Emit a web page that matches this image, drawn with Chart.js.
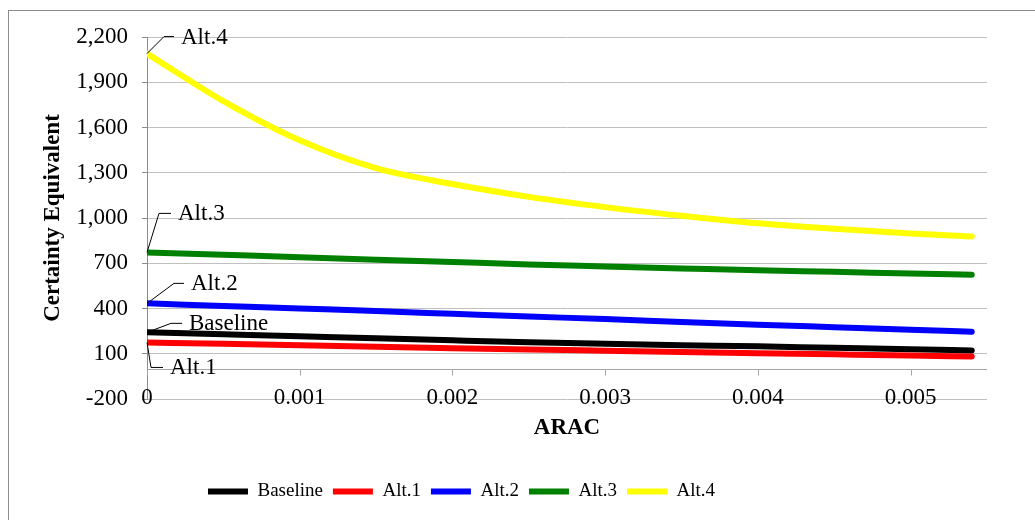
<!DOCTYPE html>
<html>
<head>
<meta charset="utf-8">
<script src="https://cdn.jsdelivr.net/npm/chart.js@4"></script>
<style>
  body { margin: 0; background: #fff; }
  #wrap { position: relative; width: 1035px; height: 520px; }
  #frame { position: absolute; left: 8px; top: 10px; width: 1040px; height: 520px;
           border-left: 1px solid #8c8c8c; border-top: 1px solid #8c8c8c; }
  canvas { position: absolute; left: 0; top: 0; }
</style>
</head>
<body>
<div id="wrap">
  <div id="frame"></div>
  <canvas id="grafico-ce" width="1035" height="520"></canvas>
</div>
<script>
// ARAC values sampled along the curves
const arac = [0, 0.0005, 0.001, 0.0015, 0.002, 0.0025, 0.003, 0.0035, 0.004, 0.0045, 0.005, 0.0054];

const baseline = [242, 229, 216, 203, 189, 176, 166, 157, 149, 139, 130, 122];
const alt1 = [175, 166, 156, 147, 137, 128, 120, 112, 104, 96, 88, 82];
const alt2 = [434, 417, 400, 383, 365, 347, 330, 311, 293, 276, 259, 246];
const alt3 = [772, 756, 740, 724, 708, 692, 679, 666, 653, 643, 632, 624];
const alt4 = [2090, 1775, 1515, 1330, 1225, 1140, 1072, 1015, 965, 928, 898, 878];

const nomes = ['Baseline', 'Alt.1', 'Alt.2', 'Alt.3', 'Alt.4'];
const cores = ['#000000', '#ff0000', '#0000ff', '#008000', '#ffff00'];
const series = [baseline, alt1, alt2, alt3, alt4];

const yTicks = [-200, 100, 400, 700, 1000, 1300, 1600, 1900, 2200];
const xTicks = [0, 0.001, 0.002, 0.003, 0.004, 0.005];

// leader line for each series label, relative to its first point
const rotulos = [
  { dx: 24, dy: -9, len: 11 },   // Baseline
  { dx: 4, dy: 25, len: 12 },    // Alt.1
  { dx: 27, dy: -20, len: 10 },  // Alt.2
  { dx: 12, dy: -39, len: 12 },  // Alt.3
  { dx: 17, dy: -17, len: 10 }   // Alt.4
];

const fonte = 'Liberation Serif, Times New Roman, serif';

const rotulosPlugin = {
  id: 'rotulos',
  afterDatasetsDraw(chart) {
    const ctx = chart.ctx;
    ctx.save();
    ctx.strokeStyle = '#000';
    ctx.lineWidth = 1;
    ctx.fillStyle = '#000';
    ctx.font = '23px ' + fonte;
    ctx.textBaseline = 'middle';
    series.forEach((s, i) => {
      const p = chart.getDatasetMeta(i).data[0];
      const r = rotulos[i];
      const x1 = p.x + r.dx, y1 = p.y + r.dy;
      ctx.beginPath();
      ctx.moveTo(p.x, p.y);
      ctx.lineTo(x1, y1);
      ctx.lineTo(x1 + r.len, y1);
      ctx.stroke();
      ctx.fillText(nomes[i], x1 + r.len + 7, y1 + 1);
    });
    ctx.restore();
  }
};

// horizontal axis crossing at zero, with its tick marks; labels sit on the bottom gridline
const eixoZeroPlugin = {
  id: 'eixoZero',
  afterLayout(chart) {
    // legend in the original sits a bit left of centre
    chart.legend.left -= 32;
    chart.legend.right -= 32;
  },
  beforeDatasetsDraw(chart) {
    const ctx = chart.ctx;
    const x = chart.scales.x, y = chart.scales.y;
    const y0 = Math.round(y.getPixelForValue(0)) + 0.5;
    ctx.save();
    ctx.strokeStyle = '#a6a6a6';
    ctx.lineWidth = 1;
    ctx.beginPath();
    ctx.moveTo(chart.chartArea.left, y0);
    ctx.lineTo(chart.chartArea.right, y0);
    xTicks.forEach(v => {
      const px = Math.round(x.getPixelForValue(v)) + 0.5;
      ctx.moveTo(px, y0);
      ctx.lineTo(px, y0 + 6);
    });
    ctx.stroke();
    ctx.fillStyle = '#000';
    ctx.font = '23px ' + fonte;
    ctx.textAlign = 'center';
    ctx.textBaseline = 'middle';
    const yb = y.getPixelForValue(-200);
    xTicks.forEach(v => {
      ctx.fillText(String(Number(v.toFixed(3))), x.getPixelForValue(v), yb - 1);
    });
    ctx.restore();
  }
};

const ctx = document.getElementById('grafico-ce').getContext('2d');
new Chart(ctx, {
  type: 'line',
  data: {
    datasets: series.map((s, i) => ({
      label: nomes[i],
      data: s.map((v, j) => ({ x: arac[j], y: v })),
      borderColor: cores[i],
      backgroundColor: cores[i],
      borderWidth: 6,
      borderCapStyle: 'round',
      borderJoinStyle: 'round',
      pointRadius: 0,
      pointStyle: 'line',
      cubicInterpolationMode: 'monotone',
      order: 5 - i
    }))
  },
  options: {
    responsive: false,
    animation: false,
    layout: { padding: { left: 0, right: 48, top: 37, bottom: 9 } },
    plugins: {
      tooltip: { enabled: false },
      legend: {
        position: 'bottom',
        labels: {
          sort: (a, b) => a.datasetIndex - b.datasetIndex,
          usePointStyle: true,
          pointStyleWidth: 40,
          boxHeight: 6,
          padding: 10,
          color: '#000',
          font: { family: fonte, size: 19 }
        }
      }
    },
    scales: {
      x: {
        type: 'linear',
        min: 0,
        max: 0.0055,
        border: { display: false },
        grid: { display: false, drawTicks: false },
        afterFit: s => { s.height = 73; },
        ticks: { display: false },
        title: {
          display: true,
          text: 'ARAC',
          color: '#000',
          font: { family: fonte, size: 23, weight: 'bold' },
          padding: { top: 0, bottom: 30 }
        }
      },
      y: {
        min: -200,
        max: 2200,
        border: { display: true, color: '#8c8c8c' },
        grid: {
          color: '#c0c0c0',
          tickLength: 5,
          tickColor: '#8c8c8c'
        },
        afterBuildTicks: s => { s.ticks = yTicks.map(v => ({ value: v })); },
        afterFit: s => { s.width = 147; },
        ticks: {
          padding: 14,
          color: '#000',
          font: { family: fonte, size: 23 },
          callback: v => v.toLocaleString('en-US')
        },
        title: {
          display: true,
          text: 'Certainty Equivalent',
          color: '#000',
          font: { family: fonte, size: 23, weight: 'bold' },
          padding: { top: 39, bottom: 0 }
        }
      }
    }
  },
  plugins: [eixoZeroPlugin, rotulosPlugin]
});
</script>
</body>
</html>
